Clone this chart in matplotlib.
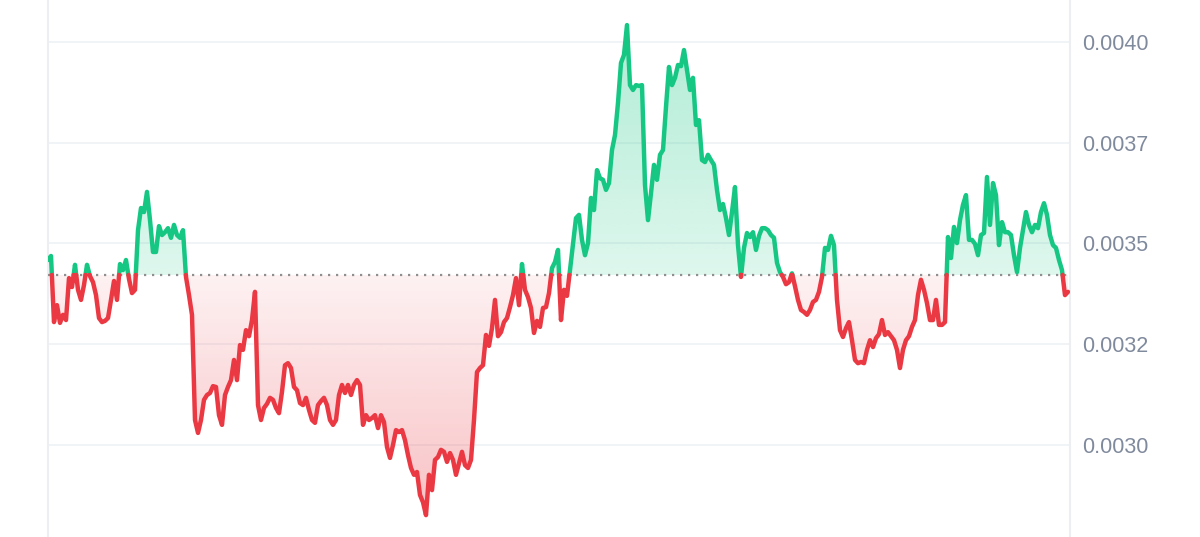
import numpy as np
import matplotlib
matplotlib.use("Agg")
import matplotlib.pyplot as plt
from matplotlib.patches import Polygon
from matplotlib.colors import to_rgb

# price samples, in millionths of a dollar (3422 -> 0.003422)
price_e6 = [
    3459, 3469, 3305, 3347, 3303, 3323, 3310, 3414, 3392, 3447, 3385, 3360, 3397, 3447, 3419, 3404,
    3372, 3315, 3305, 3308, 3315, 3360, 3407, 3360, 3449, 3434, 3459, 3412, 3377, 3385, 3533, 3588,
    3578, 3628, 3558, 3479, 3479, 3543, 3521, 3528, 3538, 3514, 3546, 3521, 3514, 3533, 3417,
    3372, 3323, 3062, 3030, 3062, 3112, 3124, 3129, 3146, 3144, 3074, 3050, 3124, 3144, 3161, 3211,
    3161, 3248, 3236, 3285, 3270, 3310, 3380, 3099, 3062, 3092, 3102, 3117, 3112, 3092, 3079, 3132,
    3198, 3203, 3191, 3144, 3136, 3104, 3099, 3117, 3087, 3062, 3055, 3099, 3109, 3117, 3099, 3062,
    3050, 3062, 3124,
    3149, 3129, 3149, 3124, 3149, 3161, 3149, 3050, 3074, 3062, 3067, 3074, 3042, 3074, 3057, 2995,
    2968, 3000, 3037, 3032, 3037, 3012, 2975, 2943, 2926, 2933, 2876, 2858, 2826, 2926, 2888, 2963,
    2970, 2988, 2983, 2958, 2980, 2963, 2926, 2955, 2983, 2950, 2943, 2963, 3062, 3181, 3191, 3198,
    3273, 3246,
    3290, 3360, 3270, 3280, 3305, 3315, 3342, 3372, 3414, 3347, 3449, 3385, 3367, 3340, 3278, 3308,
    3293, 3340, 3342, 3377, 3439, 3454, 3484, 3310, 3385, 3370, 3434, 3496, 3563, 3571, 3509, 3471,
    3501, 3613, 3583, 3682, 3662, 3658, 3633, 3650, 3732, 3769, 3849, 3948, 3968, 4042, 3893, 3881,
    3893, 3891,
    3893, 3645, 3558, 3625, 3695, 3658, 3720, 3732, 3839, 3938, 3893, 3911, 3943, 3940, 3980, 3931,
    3881, 3911, 3794, 3806, 3707, 3702, 3720, 3707, 3695, 3633, 3583, 3598, 3563, 3521, 3578, 3640,
    3496, 3417, 3489, 3526, 3516, 3528, 3484, 3519, 3538, 3538, 3533, 3521, 3514, 3452, 3429, 3417,
    3399, 3404,
    3426, 3394, 3360, 3335, 3330, 3323, 3335, 3355, 3360, 3380, 3417, 3489, 3484, 3519, 3496, 3360,
    3285, 3268, 3290, 3305, 3260, 3211, 3203, 3206, 3203, 3236, 3260, 3243, 3265, 3275, 3310, 3273,
    3280, 3270, 3260, 3236, 3191, 3236, 3260, 3270, 3293, 3310, 3372, 3410, 3385, 3352, 3310, 3310,
    3360, 3298,
    3298, 3305, 3516, 3464, 3541, 3501, 3558, 3596, 3620, 3509, 3509, 3499, 3471, 3521, 3526, 3665,
    3546, 3650, 3620, 3496, 3553, 3528, 3528, 3521, 3471, 3429, 3489, 3533, 3578, 3546, 3528, 3546,
    3538, 3578, 3600, 3571, 3521, 3496, 3489, 3459, 3434, 3372, 3380,
]
open_e6 = 3422  # reference price (dotted line)

tick_vals = [0.0030, 0.00325, 0.0035, 0.00375, 0.0040]
tick_labels = ["0.0030", "0.0032", "0.0035", "0.0037", "0.0040"]

GREEN = "#16c784"
RED = "#ea3943"

p = np.array(price_e6) * 1e-6
base = open_e6 * 1e-6
t = np.arange(len(p), dtype=float)

# add the crossing points so the colour switches right on the base line
tt, pp = [t[0]], [p[0]]
for i in range(1, len(p)):
    a, b = p[i - 1] - base, p[i] - base
    if a * b < 0:
        tt.append(t[i - 1] + a / (a - b))
        pp.append(base)
    tt.append(t[i])
    pp.append(p[i])
tt = np.array(tt)
pp = np.array(pp)

plt.rcParams['font.family'] = ['Liberation Sans', 'DejaVu Sans']
fig = plt.figure(figsize=(12, 5.37), dpi=100)
ax = fig.add_axes([48 / 1200, 0, 1022 / 1200, 1])

x0, x1 = 0, len(p) - 1 + 0.67
y0, y1 = 0.0027717, 0.0041042


def gradient_fill(upper, color, a_near, a_far, far_val):
    verts = np.vstack([np.column_stack([tt, upper]),
                       np.column_stack([tt[::-1], np.full(len(tt), base)])])
    poly = Polygon(verts, closed=True, fc='none', ec='none')
    ax.add_patch(poly)
    vals = np.linspace(y0, y1, 300)
    frac = np.clip((vals - base) / (far_val - base), 0, 1)
    rgba = np.zeros((300, 1, 4))
    rgba[..., :3] = to_rgb(color)
    rgba[..., 3] = (a_near + (a_far - a_near) * frac)[:, None]
    im = ax.imshow(rgba, aspect='auto', origin='lower', extent=[x0, x1, y0, y1],
                   interpolation='bilinear', zorder=1)
    im.set_clip_path(poly)


gradient_fill(np.maximum(pp, base), GREEN, 0.14, 0.34, 0.00405)
gradient_fill(np.minimum(pp, base), RED, 0.07, 0.30, 0.00285)

ax.plot(tt, np.where(pp >= base, pp, np.nan), color=GREEN, lw=3.2,
        solid_joinstyle='round', solid_capstyle='round', zorder=4)
ax.plot(tt, np.where(pp <= base, pp, np.nan), color=RED, lw=3.2,
        solid_joinstyle='round', solid_capstyle='round', zorder=4)
ax.axhline(base, color='#8f8f8f', lw=1.6, ls=(0, (1, 2.6)), zorder=3)

ax.set_xlim(x0, x1)
ax.set_ylim(y0, y1)
ax.set_xticks([])
ax.set_yticks(tick_vals)
ax.set_yticklabels(tick_labels)
ax.yaxis.tick_right()
ax.tick_params(axis='y', length=0, pad=9, labelsize=15.5, labelcolor='#808a9d')
ax.grid(axis='y', color='#eff2f5', lw=1.2, zorder=0)
ax.set_axisbelow(True)
for side in ['top', 'bottom']:
    ax.spines[side].set_visible(False)
for side in ['left', 'right']:
    ax.spines[side].set_color('#eceef1')
    ax.spines[side].set_linewidth(1.5)

fig.savefig('out.png', dpi=100)
